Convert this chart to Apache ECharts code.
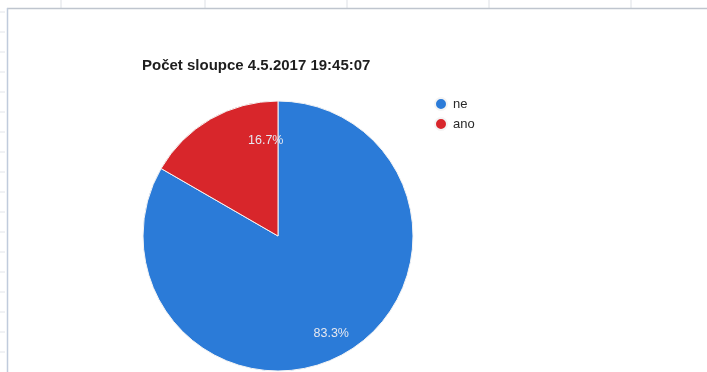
<!DOCTYPE html>
<html>
<head>
<meta charset="utf-8">
<style>
  html, body { margin: 0; padding: 0; background: #ffffff; }
  #chart { width: 707px; height: 372px; }
</style>
<script src="https://cdn.jsdelivr.net/npm/echarts@6/dist/echarts.min.js"></script>
</head>
<body>
<div id="chart"></div>
<script>
// Answers and their counts
const categories = ['ne', 'ano'];
const counts = [5, 1];
const sliceColors = ['#2b7bd8', '#d8262b'];
// Nudge of each percentage label away from the default inside spot
const labelOffsets = [[18, 36], [23, -34]];

const titleText = 'Počet sloupce 4.5.2017 19:45:07';

const chart = echarts.init(document.getElementById('chart'), null, { renderer: 'canvas' });

// Spreadsheet cell lines peeking out around the embedded chart
const sheetLines = [];
[61, 205, 347, 489, 631].forEach(function (x) {
  sheetLines.push({ type: 'line', shape: { x1: x, y1: 0, x2: x, y2: 8 }, style: { stroke: '#dde0e5', lineWidth: 1 }, silent: true });
});
for (let y = 12; y < 372; y += 20) {
  sheetLines.push({ type: 'line', shape: { x1: 0, y1: y, x2: 5, y2: y }, style: { stroke: '#e2e5ea', lineWidth: 1 }, silent: true });
}
// Chart frame edges
sheetLines.push({ type: 'line', shape: { x1: 7, y1: 8.5, x2: 707, y2: 8.5 }, style: { stroke: '#bfc5ce', lineWidth: 1.5 }, silent: true });
sheetLines.push({ type: 'line', shape: { x1: 7.5, y1: 8, x2: 7.5, y2: 372 }, style: { stroke: '#c0cbdc', lineWidth: 1.5 }, silent: true });

const data = categories.map(function (name, i) {
  return {
    name: name,
    value: counts[i],
    itemStyle: { color: sliceColors[i] },
    label: { offset: labelOffsets[i] }
  };
});

chart.setOption({
  backgroundColor: '#ffffff',
  animation: false,
  textStyle: { fontFamily: 'Liberation Sans, Arial, sans-serif' },
  title: {
    text: titleText,
    left: 142,
    top: 58,
    padding: 0,
    textStyle: {
      fontFamily: 'Liberation Sans, Arial, sans-serif',
      fontSize: 15,
      fontWeight: 'bold',
      color: '#1e1e1e'
    }
  },
  legend: {
    orient: 'vertical',
    left: 434,
    top: 97,
    padding: 0,
    icon: 'circle',
    itemWidth: 12,
    itemHeight: 12,
    itemGap: 6,
    textStyle: {
      fontFamily: 'Liberation Sans, Arial, sans-serif',
      fontSize: 13,
      color: '#2a2a2a',
      padding: [0, 0, 0, 1]
    },
    data: categories
  },
  graphic: sheetLines,
  series: [{
    type: 'pie',
    center: [278, 236],
    radius: [0, 135],
    startAngle: 90,
    clockwise: true,
    avoidLabelOverlap: false,
    itemStyle: { borderColor: '#f4f4f4', borderWidth: 1 },
    label: {
      show: true,
      position: 'inside',
      formatter: function (p) { return p.percent.toFixed(1) + '%'; },
      fontFamily: 'Liberation Sans, Arial, sans-serif',
      fontSize: 12.5,
      color: '#e6e8f0'
    },
    labelLine: { show: false },
    emphasis: { disabled: true },
    data: data
  }]
});
</script>
</body>
</html>
